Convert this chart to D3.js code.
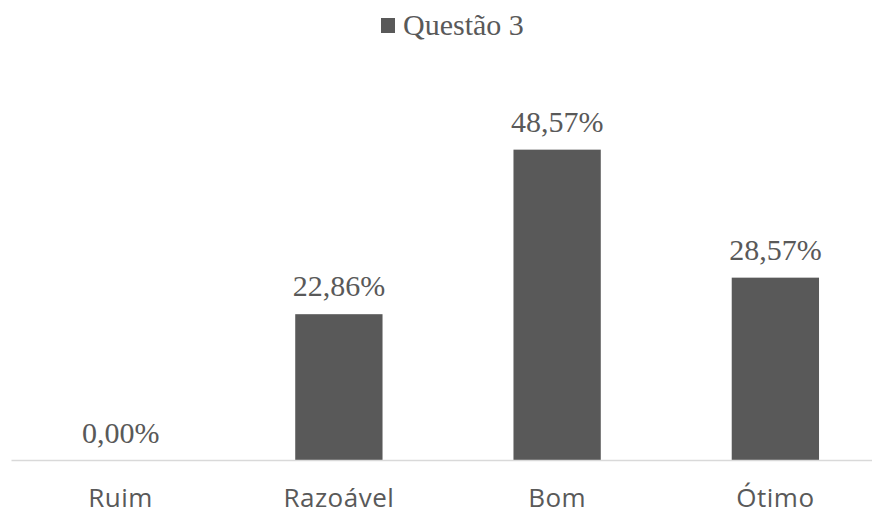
<!DOCTYPE html>
<html>
<head>
<meta charset="utf-8">
<script src="https://cdn.jsdelivr.net/npm/d3@7"></script>
<style>
    body { margin: 0; background: #ffffff; }
    #chart { width: 872px; height: 514px; }
</style>
</head>
<body>
<div id="chart"></div>
<script>
var categories = ['Ruim', 'Razoável', 'Bom', 'Ótimo']
var values = [0.00, 22.86, 48.57, 28.57]
var seriesName = 'Questão 3'

/**
 * Constructor for the bar chart
 */
function BarChart(categories, values) {
    var self = this;

    self.categories = categories
    self.values = values
    self.init();
};

/**
 * Sets up the svg and the sizes
 */
BarChart.prototype.init = function () {
    var self = this;

    self.svgWidth = 872
    self.svgHeight = 514
    self.plotLeft = 11.5
    self.plotRight = 884.5   // plot area runs a bit past the right edge
    self.baseline = 460.5
    self.top = 140.5
    self.barColor = '#595959'
    self.textColor = '#595959'

    self.svg = d3.select('#chart')
        .append('svg')
        .attr('width', self.svgWidth)
        .attr('height', self.svgHeight)
};

BarChart.prototype.update = function () {
    var self = this;

    var xScale = d3.scaleBand()
        .domain(self.categories)
        .range([self.plotLeft, self.plotRight])
        .paddingInner(0.6)
        .paddingOuter(0.3)

    var yScale = d3.scaleLinear()
        .domain([0, 50])
        .range([self.baseline, self.top])

    var data = self.categories.map(function (c, i) {
        return {cat: c, val: self.values[i]}
    })

    // bars
    self.svg.append('g')
        .selectAll('rect')
        .data(data)
        .enter()
        .append('rect')
        .attr('x', function (d) { return xScale(d.cat) })
        .attr('width', xScale.bandwidth())
        .attr('y', function (d) { return yScale(d.val) })
        .attr('height', function (d) { return yScale(0) - yScale(d.val) })
        .attr('fill', self.barColor)

    // baseline
    self.svg.append('line')
        .attr('x1', self.plotLeft)
        .attr('x2', self.svgWidth)
        .attr('y1', yScale(0))
        .attr('y2', yScale(0))
        .attr('stroke', '#d9d9d9')
        .attr('stroke-width', 1.5)

    // value labels
    self.svg.append('g')
        .selectAll('text')
        .data(data)
        .enter()
        .append('text')
        .attr('x', function (d) { return xScale(d.cat) + xScale.bandwidth() / 2 })
        .attr('y', function (d) { return yScale(d.val) - 18 })
        .attr('text-anchor', 'middle')
        .style('font-family', '"Liberation Serif", "Times New Roman", serif')
        .style('font-size', '30px')
        .attr('fill', self.textColor)
        .text(function (d) { return d.val.toFixed(2).replace('.', ',') + '%' })

    // category axis labels
    var xAxis = d3.axisBottom(xScale).tickSize(0).tickPadding(0)
    var axisGroup = self.svg.append('g')
        .attr('transform', 'translate(0,' + 507 + ')')
        .call(xAxis)
    axisGroup.select('.domain').remove()
    axisGroup.selectAll('text')
        .attr('dy', 0)
        .attr('fill', self.textColor)
        .style('font-family', '"Open Sans", "Noto Sans", sans-serif')
        .style('font-size', '26px')
        .style('letter-spacing', '0.5px')

    // legend
    var legend = self.svg.append('g')
        .attr('transform', 'translate(381,18)')
    legend.append('rect')
        .attr('width', 14)
        .attr('height', 15)
        .attr('fill', self.barColor)
    legend.append('text')
        .attr('x', 22)
        .attr('y', 17)
        .style('font-family', '"Liberation Serif", "Times New Roman", serif')
        .style('font-size', '30px')
        .attr('fill', self.textColor)
        .text(seriesName)
};

var chart = new BarChart(categories, values)
chart.update()
</script>
</body>
</html>
